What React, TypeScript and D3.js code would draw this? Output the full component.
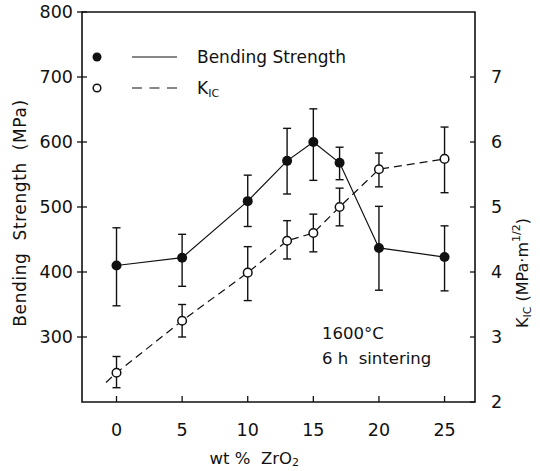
import React from "react";
import * as d3 from "d3";

const xValues = [0, 5, 10, 13, 15, 17, 20, 25];
const strength = [410, 422, 509, 571, 600, 568, 437, 423];
const strengthLow = [348, 378, 470, 520, 541, 542, 372, 371];
const strengthHigh = [468, 458, 549, 621, 651, 592, 501, 471];
const kic = [2.45, 3.25, 3.99, 4.48, 4.6, 5.0, 5.58, 5.74];
const kicLow = [2.22, 3.0, 3.56, 4.2, 4.31, 4.71, 5.31, 5.22];
const kicHigh = [2.7, 3.5, 4.39, 4.79, 4.89, 5.29, 5.83, 6.23];
const kicLineStart = [-0.8, 2.3];
const leftTicks = [300, 400, 500, 600, 700, 800];
const rightTicks = [2, 3, 4, 5, 6, 7];
const xTicks = [0, 5, 10, 15, 20, 25];

const W = 540;
const H = 471;
const L = 82, R = 475, T = 12, B = 402;
const FONT = "DejaVu Sans, sans-serif";

export default function App() {
  const x = d3.scaleLinear().domain([-2.63, 27.32]).range([L, R]);
  const yL = d3.scaleLinear().domain([200, 800]).range([B, T]);
  const yR = d3.scaleLinear().domain([2, 8]).range([B, T]);

  const sPts: [number, number][] = xValues.map((v, i) => [v, strength[i]]);
  const kPts: [number, number][] = [[kicLineStart[0], kicLineStart[1]], ...xValues.map((v, i) => [v, kic[i]] as [number, number])];
  const lineS = d3.line<[number, number]>().x(d => x(d[0])).y(d => yL(d[1]));
  const lineK = d3.line<[number, number]>().x(d => x(d[0])).y(d => yR(d[1]));

  const cap = 4;
  const ink = "#111";
  const pre = { whiteSpace: "pre" as const };

  return (
    <svg width={W} height={H} style={{ position: "absolute", left: 0, top: 0, background: "#fff" }} fontFamily={FONT}>
      <rect x={0} y={0} width={W} height={H} fill="#fff" />
      {/* frame */}
      <path d={`M${L},${T}H${R}V${B}H${L}Z`} fill="none" stroke={ink} strokeWidth={1.6} />
      {/* left ticks */}
      {leftTicks.map(t => (
        <g key={"l" + t}>
          <line x1={L - 5} x2={L + 5} y1={yL(t)} y2={yL(t)} stroke={ink} strokeWidth={1.3} />
          <text x={L - 9} y={yL(t)} dy="0.36em" textAnchor="end" fontSize={17.5} fill={ink}>{t}</text>
        </g>
      ))}
      {/* right ticks */}
      {rightTicks.map(t => (
        <g key={"r" + t}>
          <line x1={R - 5} x2={R} y1={yR(t)} y2={yR(t)} stroke={ink} strokeWidth={1.3} />
          <text x={R + 16} y={yR(t)} dy="0.36em" textAnchor="start" fontSize={17.5} fill={ink}>{t}</text>
        </g>
      ))}
      {/* bottom ticks */}
      {xTicks.map(t => (
        <g key={"b" + t}>
          <line x1={x(t)} x2={x(t)} y1={B} y2={B - 6} stroke={ink} strokeWidth={1.3} />
          <text x={x(t)} y={B + 34} textAnchor="middle" fontSize={17.5} fill={ink}>{t}</text>
        </g>
      ))}
      {/* axis titles */}
      <text x={x(10.5)} y={464} textAnchor="middle" fontSize={16.5} fill={ink} style={pre}>
        {"wt %  ZrO"}<tspan fontSize={11} dy={2}>2</tspan>
      </text>
      <text transform={`translate(26,213) rotate(-90)`} textAnchor="middle" fontSize={17} letterSpacing={0.6} fill={ink} style={pre}>
        {"Bending  Strength  (MPa)"}
      </text>
      <text transform={`translate(528,273) rotate(-90)`} textAnchor="middle" fontSize={16} fill={ink} style={pre}>
        K<tspan fontSize={11} dy={3}>IC</tspan><tspan dy={-3}>{" (MPa·m"}</tspan><tspan fontSize={11} dy={-8}>1/2</tspan><tspan dy={8}>)</tspan>
      </text>
      {/* lines */}
      <path d={lineK(kPts) || ""} fill="none" stroke={ink} strokeWidth={1.2} strokeDasharray="8,5" />
      <path d={lineS(sPts) || ""} fill="none" stroke={ink} strokeWidth={1.2} />
      {/* error bars */}
      {xValues.map((v, i) => (
        <g key={"es" + i} stroke={ink} strokeWidth={1.4}>
          <line x1={x(v)} x2={x(v)} y1={yL(strengthLow[i])} y2={yL(strengthHigh[i])} />
          <line x1={x(v) - cap} x2={x(v) + cap} y1={yL(strengthLow[i])} y2={yL(strengthLow[i])} />
          <line x1={x(v) - cap} x2={x(v) + cap} y1={yL(strengthHigh[i])} y2={yL(strengthHigh[i])} />
        </g>
      ))}
      {xValues.map((v, i) => (
        <g key={"ek" + i} stroke={ink} strokeWidth={1.4}>
          <line x1={x(v)} x2={x(v)} y1={yR(kicLow[i])} y2={yR(kicHigh[i])} />
          <line x1={x(v) - cap} x2={x(v) + cap} y1={yR(kicLow[i])} y2={yR(kicLow[i])} />
          <line x1={x(v) - cap} x2={x(v) + cap} y1={yR(kicHigh[i])} y2={yR(kicHigh[i])} />
        </g>
      ))}
      {/* markers */}
      {xValues.map((v, i) => (
        <circle key={"ms" + i} cx={x(v)} cy={yL(strength[i])} r={5} fill={ink} />
      ))}
      {xValues.map((v, i) => (
        <circle key={"mk" + i} cx={x(v)} cy={yR(kic[i])} r={4.3} fill="#fff" stroke={ink} strokeWidth={1.5} />
      ))}
      {/* legend */}
      <circle cx={97} cy={57} r={4.5} fill={ink} />
      <line x1={132} x2={177} y1={57} y2={57} stroke={ink} strokeWidth={1.2} />
      <text x={197} y={57} dy="0.36em" fontSize={17} fill={ink}>Bending Strength</text>
      <circle cx={97} cy={88} r={3.8} fill="#fff" stroke={ink} strokeWidth={1.5} />
      <line x1={132} x2={177} y1={88} y2={88} stroke={ink} strokeWidth={1.2} strokeDasharray="10,7.5" />
      <text x={197} y={88} dy="0.36em" fontSize={17} fill={ink}>
        K<tspan fontSize={11} dy={3}>IC</tspan>
      </text>
      {/* annotation */}
      <text x={322} y={333} dy="0.36em" fontSize={16.5} fill={ink}>1600°C</text>
      <text x={322} y={358} dy="0.36em" fontSize={16.5} fill={ink} style={pre}>{"6 h  sintering"}</text>
    </svg>
  );
}
